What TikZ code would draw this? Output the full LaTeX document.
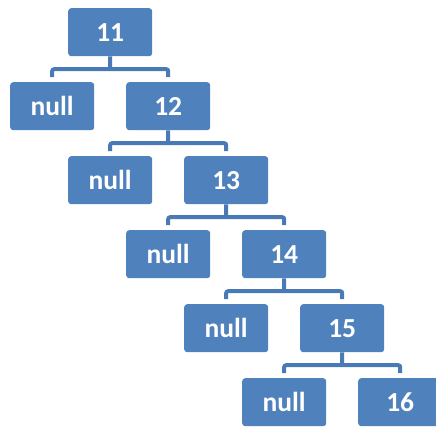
\documentclass[tikz,border=0pt]{standalone}
\usepackage{fontspec}
\setmainfont{Carlito}
\usetikzlibrary{calc}
\definecolor{boxblue}{HTML}{4F81BD}
\definecolor{lineblue}{HTML}{4A7AB5}
\tikzset{
  treebox/.style={fill=boxblue, draw=none, rounded corners=3pt, minimum width=84pt, minimum height=48pt, inner sep=0pt, anchor=north west, text=white, font=\bfseries\fontsize{27.5}{30}\selectfont},
  conn/.style={draw=lineblue, line width=4pt, rounded corners=2pt}
}
\begin{document}
\begin{tikzpicture}[x=1pt,y=-1pt]
\useasboundingbox (0,0) rectangle (436,428);
\node[treebox] (n11) at (68,8) {11};
\node[treebox] (l11) at (10,82) {null};
\node[treebox] (n12) at (126,82) {12};
\node[treebox] (l12) at (68,156) {null};
\node[treebox] (n13) at (184,156) {13};
\node[treebox] (l13) at (126,230) {null};
\node[treebox] (n14) at (242,230) {14};
\node[treebox] (l14) at (184,304) {null};
\node[treebox] (n15) at (300,304) {15};
\node[treebox] (l15) at (242,378) {null};
\node[treebox] (n16) at (358,378) {16};
\foreach \p/\l/\r in {n11/l11/n12, n12/l12/n13, n13/l13/n14, n14/l14/n15, n15/l15/n16}{
  \coordinate (b\p) at ($(\p.south)!0.5!(\p.south |- \l.north)$);
  \draw[conn] (\p.south) -- (b\p);
  \draw[conn] ([yshift=5pt]\l.north) |- (b\p) -| ([yshift=5pt]\r.north);
}
\end{tikzpicture}
\end{document}
